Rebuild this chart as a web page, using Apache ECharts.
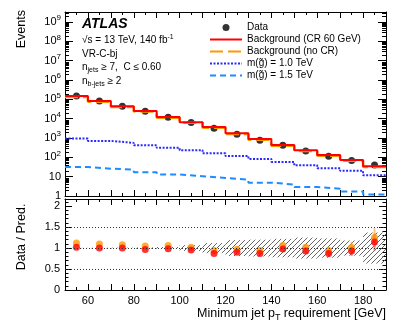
<!DOCTYPE html>
<html>
<head>
<meta charset="utf-8">
<script src="https://cdn.jsdelivr.net/npm/echarts@6/dist/echarts.min.js"></script>
<style>
  html, body { margin: 0; padding: 0; background: #fff; }
  #main { width: 407px; height: 325px; }
</style>
</head>
<body>
<div id="main"></div>
<script>
// bin edges in GeV (minimum jet pT requirement)
const binEdges = [50, 60, 70, 80, 90, 100, 110, 120, 130, 140, 150, 160, 170, 180, 190]
// events per bin
const dataEvents = [150000, 83000, 44000, 24500, 12000, 6300, 3200, 1580, 770, 425, 215, 114, 68, 40]
const bkgCR = [147000, 83000, 44000, 25300, 12200, 6600, 3680, 1760, 885, 434, 231, 131, 73, 35]
const bkgNoCR = [134000, 75500, 40700, 23300, 11300, 6180, 3400, 1630, 820, 400, 211, 121, 67, 32]
const sig1000 = [940, 710, 560, 420, 310, 235, 162, 118, 83, 58, 39, 27, 20, 11.8]
const sig1500 = [32, 26, 23, 17, 13, 10.5, 8.5, 7.1, 4.9, 3.9, 2.9, 2.4, 1.7, 1.2]
// relative stat. error of data, relative uncertainty of the CR background (hatched band)
const dataRelErr = [0.003, 0.004, 0.005, 0.006, 0.009, 0.013, 0.018, 0.025, 0.036, 0.05, 0.07, 0.1, 0.13, 0.18]
const bkgRelUnc = [0.005, 0.008, 0.01, 0.015, 0.025, 0.07, 0.12, 0.19, 0.2, 0.22, 0.25, 0.23, 0.18, 0.37]
const ratioRefLines = [0.5, 1, 1.5]

const FONT = 'Liberation Sans, Arial, Helvetica, sans-serif'
const Y_MAX = 3.3e9
const nBins = dataEvents.length
const centers = dataEvents.map((v, i) => (binEdges[i] + binEdges[i + 1]) / 2)

// histogram as step line through the bin edges
function stepData (vals) {
  return binEdges.map((e, i) => [e, vals[Math.min(i, nBins - 1)]])
}

const ratioCR = dataEvents.map((d, i) => d / bkgCR[i])
const ratioNoCR = dataEvents.map((d, i) => d / bkgNoCR[i])

// ROOT style log minor ticks: 2..9 in every decade
const logMinor = []
for (let d = 0; d <= 9; d++) {
  for (let k = 2; k <= 9; k++) {
    if (k * Math.pow(10, d) < Y_MAX) logMinor.push(k * Math.pow(10, d))
  }
}

// hatch pattern for the uncertainty band
const hatch = document.createElement('canvas')
hatch.width = 5
hatch.height = 5
const hctx = hatch.getContext('2d')
hctx.strokeStyle = '#555'
hctx.lineWidth = 0.9
hctx.beginPath()
hctx.moveTo(-1, 6); hctx.lineTo(6, -1)
hctx.moveTo(-1, 1); hctx.lineTo(1, -1)
hctx.moveTo(4, 6); hctx.lineTo(6, 4)
hctx.stroke()

function logLabel (value) {
  const lg = Math.log10(value)
  const e = Math.round(lg)
  if (Math.abs(lg - e) > 0.01) return ''
  if (e === 0) return '1'
  if (e === 1) return '10'
  return '{b|10}{s|' + e + '}'
}

const xCommon = {
  type: 'value', min: 50, max: 190, interval: 10,
  axisLine: { show: true, onZero: false, lineStyle: { color: '#000', width: 1 } },
  axisTick: { show: true, inside: true, length: 6, lineStyle: { color: '#000' } },
  minorTick: { show: true, splitNumber: 2, length: 3, lineStyle: { color: '#000' } },
  splitLine: { show: false },
  axisLabel: { show: false }
}
const yLogCommon = {
  type: 'log', logBase: 10, min: 1, max: Y_MAX, interval: 1,
  axisLine: { show: true, lineStyle: { color: '#000', width: 1 } },
  axisTick: { show: true, inside: true, length: 8, lineStyle: { color: '#000' } },
  minorTick: { show: false },
  splitLine: { show: false },
  axisLabel: { show: false }
}
const yRatioCommon = {
  type: 'value', min: 0, max: 2.17, interval: 0.5,
  axisLine: { show: true, lineStyle: { color: '#000', width: 1 } },
  axisTick: { show: true, inside: true, length: 7, lineStyle: { color: '#000' } },
  minorTick: { show: true, splitNumber: 5, length: 3.5, lineStyle: { color: '#000' } },
  splitLine: { show: false },
  axisLabel: { show: false }
}

// legend entries for lines: hide the symbol ECharts draws in the icon
const noSym = { opacity: 0 }

const chart = echarts.init(document.getElementById('main'), null, { renderer: 'canvas' })

const option = {
  backgroundColor: '#fff',
  animation: false,
  textStyle: { fontFamily: FONT },
  grid: [
    { left: 65, right: 21, top: 12, height: 184 },
    { left: 65, right: 21, top: 199, height: 91 }
  ],
  xAxis: [
    Object.assign({}, xCommon, { gridIndex: 0, position: 'bottom' }),
    Object.assign({}, xCommon, { gridIndex: 0, position: 'top' }),
    Object.assign({}, xCommon, {
      gridIndex: 1,
      position: 'bottom',
      axisLabel: {
        show: true, color: '#000', fontSize: 11, fontFamily: FONT, margin: 5,
        formatter: v => (v % 20 === 0 && v > 50 && v < 190) ? String(v) : ''
      },
      name: 'Minimum jet p{sub|T} requirement [GeV]',
      nameLocation: 'end',
      nameGap: 0,
      nameTextStyle: {
        color: '#000', fontSize: 12.5, fontFamily: FONT, align: 'right', verticalAlign: 'top',
        padding: [16, 0, 0, 0],
        rich: { sub: { fontSize: 9, padding: [7, 0, 0, 0], fontFamily: FONT, color: '#000' } }
      }
    }),
    Object.assign({}, xCommon, { gridIndex: 1, position: 'top' })
  ],
  yAxis: [
    Object.assign({}, yLogCommon, {
      gridIndex: 0,
      position: 'left',
      axisLabel: {
        show: true, color: '#000', fontSize: 11, fontFamily: FONT, margin: 4, showMaxLabel: false,
        formatter: logLabel,
        rich: {
          b: { fontSize: 11, fontFamily: FONT, color: '#000' },
          s: { fontSize: 8, fontFamily: FONT, color: '#000', padding: [0, 0, 8, 0] }
        }
      }
    }),
    Object.assign({}, yLogCommon, { gridIndex: 0, position: 'right' }),
    Object.assign({}, yRatioCommon, {
      gridIndex: 1,
      position: 'left',
      axisLabel: {
        show: true, color: '#000', fontSize: 11, fontFamily: FONT, margin: 5, showMaxLabel: false,
        formatter: v => (Math.abs(v * 2 - Math.round(v * 2)) < 1e-6) ? String(v) : ''
      }
    }),
    Object.assign({}, yRatioCommon, { gridIndex: 1, position: 'right' })
  ],
  legend: {
    left: 209,
    top: 22,
    padding: 0,
    orient: 'vertical',
    itemWidth: 32,
    itemHeight: 7,
    itemGap: 1,
    textStyle: { fontSize: 10, lineHeight: 11, color: '#000', fontFamily: FONT },
    data: [
      { name: 'Data' },
      { name: 'Background (CR 60 GeV)', itemStyle: noSym },
      { name: 'Background (no CR)', itemStyle: noSym },
      { name: 'm(g\u0303) = 1.0 TeV', itemStyle: noSym },
      { name: 'm(g\u0303) = 1.5 TeV', itemStyle: noSym }
    ]
  },
  graphic: [
    { type: 'text', left: 82, top: 17, style: { text: 'ATLAS', font: 'italic bold 14px ' + FONT, fill: '#000' } },
    {
      type: 'text', left: 82, top: 34,
      style: {
        text: '\u221As = 13 TeV, 140 fb{sup|-1}', font: '10px ' + FONT, fill: '#000',
        rich: { sup: { fontSize: 7, padding: [0, 0, 6, 0], fontFamily: FONT, fill: '#000' } }
      }
    },
    { type: 'text', left: 82, top: 49, style: { text: 'VR-C-bj', font: '10px ' + FONT, fill: '#000' } },
    {
      type: 'text', left: 82, top: 62,
      style: {
        text: 'n{sub|jets} \u2265 7,  C \u2264 0.60', font: '10px ' + FONT, fill: '#000',
        rich: { sub: { fontSize: 7, padding: [6, 0, 0, 0], fontFamily: FONT, fill: '#000' } }
      }
    },
    {
      type: 'text', left: 82, top: 76,
      style: {
        text: 'n{sub|b-jets} \u2265 2', font: '10px ' + FONT, fill: '#000',
        rich: { sub: { fontSize: 7, padding: [6, 0, 0, 0], fontFamily: FONT, fill: '#000' } }
      }
    },
    {
      type: 'text', x: 22, y: 10, rotation: Math.PI / 2,
      style: { text: 'Events', font: '12.5px ' + FONT, fill: '#000', align: 'right', verticalAlign: 'middle' }
    },
    {
      type: 'text', x: 22, y: 237, rotation: Math.PI / 2,
      style: { text: 'Data / Pred.', font: '12.5px ' + FONT, fill: '#000', align: 'center', verticalAlign: 'middle' }
    }
  ],
  series: [
    // log-axis minor ticks on both sides of the upper frame
    {
      type: 'custom', xAxisIndex: 0, yAxisIndex: 0, silent: true, clip: false,
      renderItem: function (params, api) {
        const l = api.coord([50, api.value(0)])
        const r = api.coord([190, api.value(0)])
        const st = { stroke: '#000', lineWidth: 1 }
        return {
          type: 'group',
          children: [
            { type: 'line', shape: { x1: l[0], y1: Math.round(l[1]) + 0.5, x2: l[0] + 4, y2: Math.round(l[1]) + 0.5 }, style: st },
            { type: 'line', shape: { x1: r[0] - 4, y1: Math.round(r[1]) + 0.5, x2: r[0], y2: Math.round(r[1]) + 0.5 }, style: st }
          ]
        }
      },
      data: logMinor.map(v => [v])
    },
    {
      name: 'm(g\u0303) = 1.5 TeV', type: 'line', step: 'end', symbol: 'none',
      xAxisIndex: 0, yAxisIndex: 0,
      lineStyle: { color: '#1e8cff', width: 2, type: [6, 4] },
      itemStyle: { color: '#1e8cff' },
      data: stepData(sig1500)
    },
    {
      name: 'm(g\u0303) = 1.0 TeV', type: 'line', step: 'end', symbol: 'none',
      xAxisIndex: 0, yAxisIndex: 0,
      lineStyle: { color: '#2a2aff', width: 2, type: [2, 1.5] },
      itemStyle: { color: '#2a2aff' },
      data: stepData(sig1000)
    },
    {
      name: 'Background (no CR)', type: 'line', step: 'end', symbol: 'none',
      xAxisIndex: 0, yAxisIndex: 0,
      lineStyle: { color: '#ff9900', width: 2.5, type: [13, 5] },
      itemStyle: { color: '#ff9900' },
      data: stepData(bkgNoCR)
    },
    {
      name: 'Background (CR 60 GeV)', type: 'line', step: 'end', symbol: 'none',
      xAxisIndex: 0, yAxisIndex: 0,
      lineStyle: { color: '#ff0000', width: 2 },
      itemStyle: { color: '#ff0000' },
      data: stepData(bkgCR)
    },
    {
      name: 'Data', type: 'scatter', symbol: 'circle', symbolSize: 7,
      xAxisIndex: 0, yAxisIndex: 0,
      itemStyle: { color: '#000' },
      data: centers.map((c, i) => [c, dataEvents[i]])
    },
    // ratio panel: hatched uncertainty band
    {
      type: 'custom', xAxisIndex: 2, yAxisIndex: 2, silent: true,
      renderItem: function (params, api) {
        const p0 = api.coord([api.value(0), 1 + api.value(2)])
        const p1 = api.coord([api.value(1), 1 - api.value(2)])
        return {
          type: 'rect',
          shape: { x: p0[0], y: p0[1], width: p1[0] - p0[0], height: p1[1] - p0[1] },
          style: { fill: { image: hatch, repeat: 'repeat' }, stroke: null }
        }
      },
      data: bkgRelUnc.map((u, i) => [binEdges[i], binEdges[i + 1], u]),
      markLine: {
        silent: true, symbol: 'none', label: { show: false },
        lineStyle: { color: '#333', width: 1, type: [1, 2] },
        data: ratioRefLines.map(v => ({ yAxis: v }))
      }
    },
    // error bars
    {
      type: 'custom', xAxisIndex: 2, yAxisIndex: 2, silent: true,
      renderItem: function (params, api) {
        const lo = api.coord([api.value(0), api.value(1) - api.value(2)])
        const hi = api.coord([api.value(0), api.value(1) + api.value(2)])
        return { type: 'line', shape: { x1: lo[0], y1: lo[1], x2: hi[0], y2: hi[1] }, style: { stroke: 'rgba(255,160,60,0.6)', lineWidth: 2 } }
      },
      data: centers.map((c, i) => [c, ratioNoCR[i], ratioNoCR[i] * dataRelErr[i]])
    },
    {
      type: 'custom', xAxisIndex: 2, yAxisIndex: 2, silent: true,
      renderItem: function (params, api) {
        const lo = api.coord([api.value(0), api.value(1) - api.value(2)])
        const hi = api.coord([api.value(0), api.value(1) + api.value(2)])
        return { type: 'line', shape: { x1: lo[0], y1: lo[1], x2: hi[0], y2: hi[1] }, style: { stroke: 'rgba(255,60,60,0.6)', lineWidth: 2 } }
      },
      data: centers.map((c, i) => [c, ratioCR[i], ratioCR[i] * dataRelErr[i]])
    },
    {
      type: 'scatter', symbol: 'circle', symbolSize: 7, xAxisIndex: 2, yAxisIndex: 2,
      itemStyle: { color: '#ff9900' },
      data: centers.map((c, i) => [c, ratioNoCR[i]])
    },
    {
      type: 'scatter', symbol: 'circle', symbolSize: 7, xAxisIndex: 2, yAxisIndex: 2,
      itemStyle: { color: '#ff0000' },
      data: centers.map((c, i) => [c, ratioCR[i]])
    }
  ]
}

chart.setOption(option)
</script>
</body>
</html>
